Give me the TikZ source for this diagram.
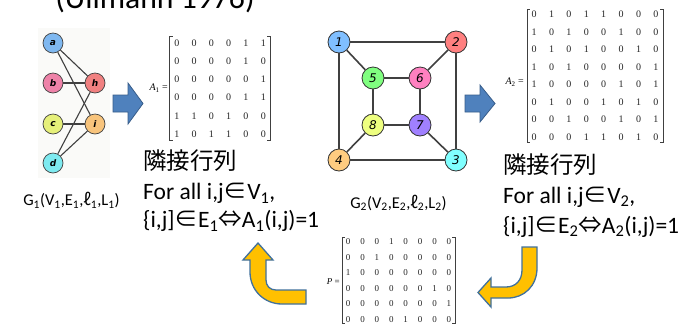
\documentclass[tikz,border=0pt]{standalone}
\usepackage{fontspec}
\setmainfont{Carlito}
\newfontfamily\cjk{Noto Sans CJK JP}
\newfontfamily\matf{Liberation Serif}
\newfontfamily\labf{DejaVu Sans}
\usetikzlibrary{matrix}
\definecolor{cA}{HTML}{7FB8F0}
\definecolor{cB}{HTML}{EE82A8}
\definecolor{cH}{HTML}{F08080}
\definecolor{cC}{HTML}{E6F07A}
\definecolor{cI}{HTML}{F8C47C}
\definecolor{cD}{HTML}{7EEAF0}
\definecolor{n1}{HTML}{80BFFF}
\definecolor{n2}{HTML}{FF8080}
\definecolor{n3}{HTML}{80FFFF}
\definecolor{n4}{HTML}{FFCC80}
\definecolor{n5}{HTML}{80FF80}
\definecolor{n6}{HTML}{FF80C0}
\definecolor{n7}{HTML}{A080FF}
\definecolor{n8}{HTML}{EEFF80}
\definecolor{bfill}{HTML}{4F81BD}
\definecolor{bline}{HTML}{385D8A}
\definecolor{yfill}{HTML}{FFC000}
\definecolor{yline}{HTML}{41719C}
\definecolor{panel}{HTML}{FAFAF8}
\begin{document}
\begin{tikzpicture}[x=1pt,y=-1pt,
  brk/.style={line width=0.6pt, black!75},
  mat/.style={matrix of nodes, inner sep=0pt, nodes={inner sep=0pt, font=\matf\fontsize{10}{10}\selectfont, text=black!85}},
  gA/.style={circle, draw=black!75, line width=0.7pt, minimum size=20pt, inner sep=0pt, font=\labf\bfseries\itshape\fontsize{9}{9}\selectfont},
  gB/.style={circle, draw=black!80, line width=0.8pt, minimum size=22pt, inner sep=0pt, font=\labf\itshape\fontsize{12}{12}\selectfont},
  eA/.style={draw=black!75, line width=1.1pt},
  eB/.style={draw=black!75, line width=1.6pt},
  bigtxt/.style={font=\fontsize{23.5}{28}\selectfont, anchor=base west, inner sep=0pt},
  glab/.style={font=\fontsize{16.5}{18}\selectfont, anchor=base, inner sep=0pt},
  mlab/.style={anchor=east, inner sep=0pt, font=\matf\fontsize{10}{10}\selectfont},
  barrow/.style={fill=bfill, draw=bline, line width=0.8pt, line join=miter},
  yarrow/.style={fill=yfill, draw=yline, line width=1.3pt, line join=miter}]
\clip (0,0) rectangle (687,325);
\fill[white] (0,0) rectangle (687,325);
% title
\node[font=\fontsize{31.7}{34}\selectfont, anchor=base, inner sep=0pt] (title) at (155,8) {(Ullmann 1976)};
% left graph
\fill[panel] (38,28) rectangle (110,178);
\node[gA, fill=cA] (a) at (53,43) {a};
\node[gA, fill=cB] (b) at (53,83) {b};
\node[gA, fill=cC] (c) at (53,124) {c};
\node[gA, fill=cD] (d) at (53,163) {d};
\node[gA, fill=cH] (h) at (95,83) {h};
\node[gA, fill=cI] (i) at (95,124) {i};
\draw[eA] (a) -- (h);
\draw[eA] (a) -- (i);
\draw[eA] (b) -- (h);
\draw[eA] (c) -- (i);
\draw[eA] (d) -- (h);
\draw[eA] (d) -- (i);
\node[glab] (g1) at (71.5,205.5) {G\textsubscript{1}(V\textsubscript{1},E\textsubscript{1},{\cjk ℓ}\textsubscript{1},L\textsubscript{1})};
% blue arrow 1
\draw[barrow] (113,95) -- (128,95) -- (128,83) -- (143,103.5) -- (128,124) -- (128,112) -- (113,112) -- cycle;
% A1
\node[mlab] (l1) at (168,88) {\textit{A}\textsubscript{1} =};
\matrix (M1) [mat, nodes={minimum width=14pt, minimum height=12pt}, column sep=3.3pt, row sep=6.2pt] at (220,88.5) {
0 & 0 & 0 & 0 & 1 & 1\\
0 & 0 & 0 & 0 & 1 & 0\\
0 & 0 & 0 & 0 & 0 & 1\\
0 & 0 & 0 & 0 & 1 & 1\\
1 & 1 & 0 & 1 & 0 & 0\\
1 & 0 & 1 & 1 & 0 & 0\\
};
\draw[brk] ([xshift=3pt]M1.north west) -- (M1.north west) -- (M1.south west) -- ([xshift=3pt]M1.south west);
\draw[brk] ([xshift=-3pt]M1.north east) -- (M1.north east) -- (M1.south east) -- ([xshift=-3pt]M1.south east);
\node[bigtxt] (jl) at (143,169.5) {\cjk 隣接行列};
\node[bigtxt] (fl) at (143,199.5) {For all i,j{\cjk ∈}V\textsubscript{1},};
\node[bigtxt] (el) at (143,227.5) {\{i,j]{\cjk ∈}E\textsubscript{1}{\cjk ⇔}A\textsubscript{1}(i,j)=1};
% right graph
\node[gB, fill=n1] (v1) at (339,42) {1};
\node[gB, fill=n2] (v2) at (456,42) {2};
\node[gB, fill=n3] (v3) at (456,160) {3};
\node[gB, fill=n4] (v4) at (339,160) {4};
\node[gB, fill=n5] (v5) at (373,78) {5};
\node[gB, fill=n6] (v6) at (420,78) {6};
\node[gB, fill=n7] (v7) at (420,125) {7};
\node[gB, fill=n8] (v8) at (373,125) {8};
\draw[eB] (v1) -- (v2);
\draw[eB] (v2) -- (v3);
\draw[eB] (v3) -- (v4);
\draw[eB] (v4) -- (v1);
\draw[eB] (v1) -- (v5);
\draw[eB] (v2) -- (v6);
\draw[eB] (v3) -- (v7);
\draw[eB] (v4) -- (v8);
\draw[eB] (v5) -- (v6);
\draw[eB] (v6) -- (v7);
\draw[eB] (v7) -- (v8);
\draw[eB] (v8) -- (v5);
\node[glab] (g2) at (398.5,208) {G\textsubscript{2}(V\textsubscript{2},E\textsubscript{2},{\cjk ℓ}\textsubscript{2},L\textsubscript{2})};
% blue arrow 2
\draw[barrow] (465,95) -- (480,95) -- (480,85) -- (495,103.5) -- (480,122) -- (480,112) -- (465,112) -- cycle;
% A2
\node[mlab] (l2) at (524,82) {\textit{A}\textsubscript{2} =};
\matrix (M2) [mat, nodes={minimum width=14pt, minimum height=10pt}, column sep=3.4pt, row sep=7.5pt] at (595,75.6) {
0 & 1 & 0 & 1 & 1 & 0 & 0 & 0\\
1 & 0 & 1 & 0 & 0 & 1 & 0 & 0\\
0 & 1 & 0 & 1 & 0 & 0 & 1 & 0\\
1 & 0 & 1 & 0 & 0 & 0 & 0 & 1\\
1 & 0 & 0 & 0 & 0 & 1 & 0 & 1\\
0 & 1 & 0 & 0 & 1 & 0 & 1 & 0\\
0 & 0 & 1 & 0 & 0 & 1 & 0 & 1\\
0 & 0 & 0 & 1 & 1 & 0 & 1 & 0\\
};
\draw[brk] ([xshift=3pt]M2.north west) -- (M2.north west) -- (M2.south west) -- ([xshift=3pt]M2.south west);
\draw[brk] ([xshift=-3pt]M2.north east) -- (M2.north east) -- (M2.south east) -- ([xshift=-3pt]M2.south east);
\node[bigtxt] (jr) at (503,173.5) {\cjk 隣接行列};
\node[bigtxt] (fr) at (503,203) {For all i,j{\cjk ∈}V\textsubscript{2},};
\node[bigtxt] (er) at (503,233) {\{i,j]{\cjk ∈}E\textsubscript{2}{\cjk ⇔}A\textsubscript{2}(i,j)=1};
% P
\node[mlab, font=\matf\fontsize{9}{9}\selectfont] (lp) at (340,282) {\textit{P} =};
\matrix (MP) [mat, nodes={minimum width=12pt, minimum height=9pt, font=\matf\fontsize{9}{9}\selectfont}, column sep=2.4pt, row sep=6.4pt] at (398.5,280.5) {
0 & 0 & 0 & 1 & 0 & 0 & 0 & 0\\
0 & 0 & 1 & 0 & 0 & 0 & 0 & 0\\
1 & 0 & 0 & 0 & 0 & 0 & 0 & 0\\
0 & 0 & 0 & 0 & 0 & 0 & 1 & 0\\
0 & 0 & 0 & 0 & 0 & 0 & 0 & 1\\
0 & 0 & 0 & 0 & 1 & 0 & 0 & 0\\
};
\draw[brk] ([xshift=3pt]MP.north west) -- (MP.north west) -- (MP.south west) -- ([xshift=3pt]MP.south west);
\draw[brk] ([xshift=-3pt]MP.north east) -- (MP.north east) -- (MP.south east) -- ([xshift=-3pt]MP.south east);
% yellow arrows
\draw[yarrow] (258,243) -- (273,260) -- (266,260) -- (266,280)
  .. controls (266,286) and (270,290) .. (276,290) -- (306,290) -- (306,304) -- (282,304)
  .. controls (264,304) and (250,290) .. (250,272) -- (250,260) -- (243,260) -- cycle;
\draw[yarrow] (522,247) -- (537,247) -- (537,268)
  .. controls (537,286) and (524,298) .. (508,298) -- (491,298) -- (491,307) -- (478,292.5)
  -- (491,278) -- (491,287) -- (506,287)
  .. controls (516,287) and (522,280) .. (522,270) -- cycle;
\end{tikzpicture}
\end{document}
